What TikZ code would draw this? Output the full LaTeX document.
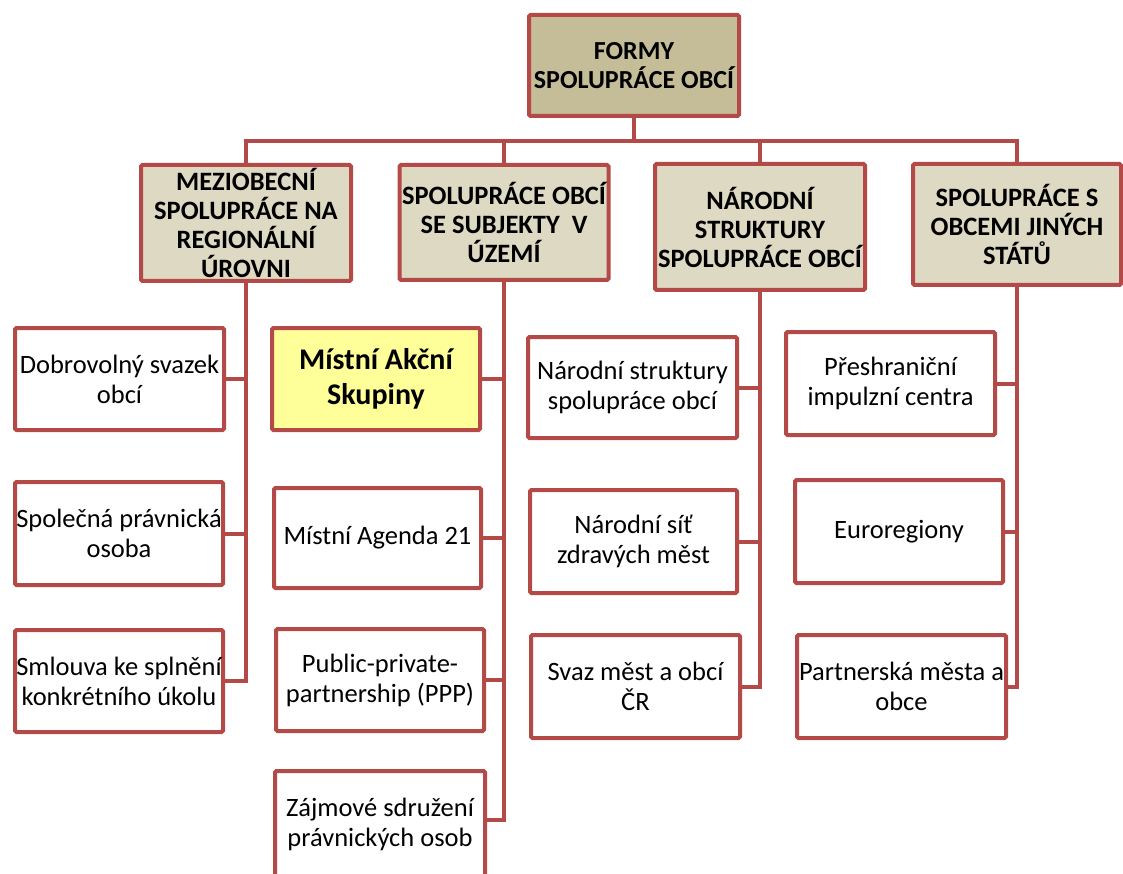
\documentclass[tikz,border=0pt]{standalone}
\usepackage{fontspec}
\setmainfont{Carlito}
\definecolor{frame}{HTML}{B34A48}
\definecolor{headfill}{HTML}{C4BD97}
\definecolor{catfill}{HTML}{DDD9C3}
\definecolor{hilite}{HTML}{FFFF99}
\begin{document}
\begin{tikzpicture}[x=1pt,y=-1pt,
  box/.style={draw=frame, line width=4pt, rounded corners=1.5pt, align=center,
    inner sep=0pt, anchor=center},
  head/.style={box, fill=headfill, font=\bfseries\fontsize{26}{29}\selectfont},
  cat/.style={box, fill=catfill, font=\bfseries\fontsize{26.5}{29}\selectfont},
  item/.style={box, fill=white, font=\fontsize{26.5}{30}\selectfont},
  keyitem/.style={box, fill=hilite, font=\bfseries\fontsize{30}{35}\selectfont},
  link/.style={draw=frame, line width=4pt}]
\useasboundingbox (0,0) rectangle (1123,874);
\fill[white] (0,0) rectangle (1123,874);
\clip (0,0) rectangle (1123,874);

% root
\node[head, minimum width=210pt, minimum height=101pt] (top) at (634,65.5)
  {FORMY\\SPOLUPRÁCE OBCÍ};

% second level
\node[cat, minimum width=210pt, minimum height=116pt] (A) at (246,223)
  {MEZIOBECNÍ\\SPOLUPRÁCE NA\\REGIONÁLNÍ\\ÚROVNI};
\node[cat, minimum width=209pt, minimum height=115pt] (B) at (504,222.5)
  {SPOLUPRÁCE OBCÍ\\SE SUBJEKTY\ \ V\\ÚZEMÍ};
\node[cat, minimum width=210pt, minimum height=126pt] (C) at (760,227)
  {NÁRODNÍ\\STRUKTURY\\SPOLUPRÁCE OBCÍ};
\node[cat, minimum width=208pt, minimum height=121pt] (D) at (1017,224.5)
  {SPOLUPRÁCE S\\OBCEMI JINÝCH\\STÁTŮ};

% column A
\node[item, minimum width=209pt, minimum height=102pt] (a1) at (119.5,379)
  {Dobrovolný svazek\\obcí};
\node[item, minimum width=208pt, minimum height=103pt] (a2) at (119,533.5)
  {Společná právnická\\osoba};
\node[item, minimum width=208pt, minimum height=102pt] (a3) at (119,681)
  {Smlouva ke splnění\\konkrétního úkolu};

% column B
\node[keyitem, minimum width=208pt, minimum height=102pt] (b1) at (376,379)
  {Místní Akční\\Skupiny};
\node[item, minimum width=207pt, minimum height=100pt] (b2) at (377.5,538)
  {Místní Agenda 21};
\node[item, minimum width=208pt, minimum height=102pt] (b3) at (380,680)
  {Public-private-\\partnership (PPP)};
% runs past the lower edge of the sheet
\node[item, minimum width=210pt, minimum height=106pt] (b4) at (380,824)
  {Zájmové sdružení\\právnických osob};

% column C
\node[item, minimum width=209pt, minimum height=101pt] (c1) at (632.5,387.5)
  {Národní struktury\\spolupráce obcí};
\node[item, minimum width=207pt, minimum height=103pt] (c2) at (633.5,541.5)
  {Národní síť\\zdravých měst};
\node[item, minimum width=209pt, minimum height=103pt] (c3) at (635.5,686.5)
  {Svaz měst a obcí\\ČR};

% column D
\node[item, minimum width=209pt, minimum height=103pt] (d1) at (890.5,383.5)
  {Přeshraniční\\impulzní centra};
\node[item, minimum width=208pt, minimum height=103pt] (d2) at (899,531.5)
  {Euroregiony};
\node[item, minimum width=209pt, minimum height=103pt] (d3) at (901.5,686.5)
  {Partnerská města a\\obce};

% connectors
\coordinate (bus) at (0,141);
\draw[link] (top.south) -- (top.south |- bus) -| (A.north);
\draw[link] (top.south |- bus) -| (B.north);
\draw[link] (top.south |- bus) -| (C.north);
\draw[link] (top.south |- bus) -| (D.north);

\foreach \p/\c in {A/a1, A/a2, A/a3, B/b1, B/b2, B/b3,
                   C/c1, C/c2, C/c3, D/d1, D/d2, D/d3}
  \draw[link] (\p.south) |- (\c.east);
\coordinate (b4tap) at ([yshift=4pt]b4.east);
\draw[link] (B.south) |- (b4tap);
\end{tikzpicture}
\end{document}
